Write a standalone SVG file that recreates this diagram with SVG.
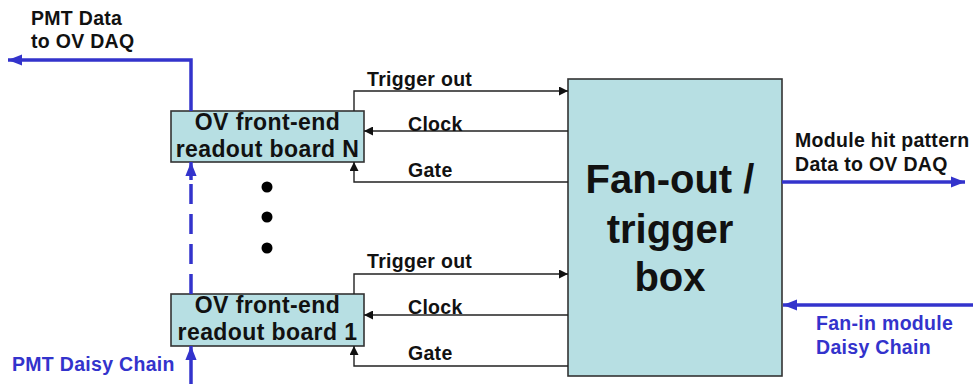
<svg xmlns="http://www.w3.org/2000/svg" width="973" height="384" viewBox="0 0 973 384">
  <defs>
    <style>
      .box { fill: #b7dfe3; stroke: #333; stroke-width: 1.6; }
      .sig { fill: none; stroke: #222; stroke-width: 1.4; }
      .bus { fill: none; stroke: #3333cc; stroke-width: 3.5; }
      .lbl { font-family: "Liberation Sans", Arial, sans-serif; font-weight: bold; font-size: 19.5px; letter-spacing: 0.3px; fill: #111; }
      .blbl { font-family: "Liberation Sans", Arial, sans-serif; font-weight: bold; font-size: 19.5px; letter-spacing: 0.3px; fill: #3333cc; }
      .node { font-family: "Liberation Sans", Arial, sans-serif; font-weight: bold; font-size: 23px; letter-spacing: 0.4px; fill: #111; text-anchor: middle; }
      .big { font-family: "Liberation Sans", Arial, sans-serif; font-weight: bold; font-size: 40px; fill: #111; text-anchor: middle; }
    </style>
    <marker id="ah" viewBox="0 0 10 10" refX="10" refY="5" markerWidth="9" markerHeight="9" markerUnits="userSpaceOnUse" orient="auto">
      <path d="M0,0 L10,5 L0,10 z" fill="#111"/>
    </marker>
    <marker id="bh" viewBox="0 0 10 10" refX="10" refY="5" markerWidth="14" markerHeight="14" markerUnits="userSpaceOnUse" orient="auto">
      <path d="M0,1 L10,5 L0,9 z" fill="#3333cc"/>
    </marker>
  </defs>

  <!-- Front-end board N -->
  <g id="board-n">
    <rect class="box" x="171" y="111" width="193" height="51"/>
    <text class="node" x="267.5" y="130">OV front-end</text>
    <text class="node" x="267.5" y="157">readout board N</text>
  </g>

  <!-- Front-end board 1 -->
  <g id="board-1">
    <rect class="box" x="171" y="294" width="193" height="52"/>
    <text class="node" x="267.5" y="313">OV front-end</text>
    <text class="node" x="267.5" y="340">readout board 1</text>
  </g>

  <!-- Fan-out / trigger box -->
  <g id="fanout">
    <rect class="box" x="568" y="79" width="214" height="297"/>
    <text class="big" x="670" y="193">Fan-out /</text>
    <text class="big" x="670" y="243">trigger</text>
    <text class="big" x="670" y="291">box</text>
  </g>

  <!-- Ellipsis between boards -->
  <g id="ellipsis" fill="#000">
    <circle cx="267" cy="187" r="5.5"/>
    <circle cx="267" cy="217" r="5.5"/>
    <circle cx="267" cy="248" r="5.5"/>
  </g>

  <g id="connectors">
    <!-- Board N signals -->
    <path class="sig" d="M354,111 V91 H568" marker-end="url(#ah)"/>
    <path class="sig" d="M568,131 H364" marker-end="url(#ah)"/>
    <path class="sig" d="M568,182 H354 V162" marker-end="url(#ah)"/>
    <!-- Board 1 signals -->
    <path class="sig" d="M354,294 V274 H568" marker-end="url(#ah)"/>
    <path class="sig" d="M568,315 H364" marker-end="url(#ah)"/>
    <path class="sig" d="M568,366 H354 V346" marker-end="url(#ah)"/>
    <!-- PMT data out -->
    <path class="bus" d="M191,111 V60 H8" marker-end="url(#bh)"/>
    <!-- Daisy chain between boards -->
    <path class="bus" d="M191,294 V175" stroke-dasharray="20 10"/>
    <path class="bus" d="M191,180 V162" marker-end="url(#bh)"/>
    <!-- PMT daisy chain in -->
    <path class="bus" d="M191,384 V346" marker-end="url(#bh)"/>
    <!-- Module hit pattern out -->
    <path class="bus" d="M782,182 H965" marker-end="url(#bh)"/>
    <!-- Fan-in module daisy chain -->
    <path class="bus" d="M973,305 H783" marker-end="url(#bh)"/>
  </g>

  <g id="labels">
    <text class="lbl" x="367" y="86">Trigger out</text>
    <text class="lbl" x="408" y="131">Clock</text>
    <text class="lbl" x="408" y="177">Gate</text>
    <text class="lbl" x="367" y="268">Trigger out</text>
    <text class="lbl" x="408" y="314">Clock</text>
    <text class="lbl" x="408" y="360">Gate</text>
    <text class="lbl" x="31" y="25">PMT Data</text>
    <text class="lbl" x="31" y="48">to OV DAQ</text>
    <text class="lbl" x="795" y="147">Module hit pattern</text>
    <text class="lbl" x="795" y="171">Data to OV DAQ</text>
    <text class="blbl" x="12" y="371">PMT Daisy Chain</text>
    <text class="blbl" x="816" y="330">Fan-in module</text>
    <text class="blbl" x="816" y="354">Daisy Chain</text>
  </g>
</svg>
